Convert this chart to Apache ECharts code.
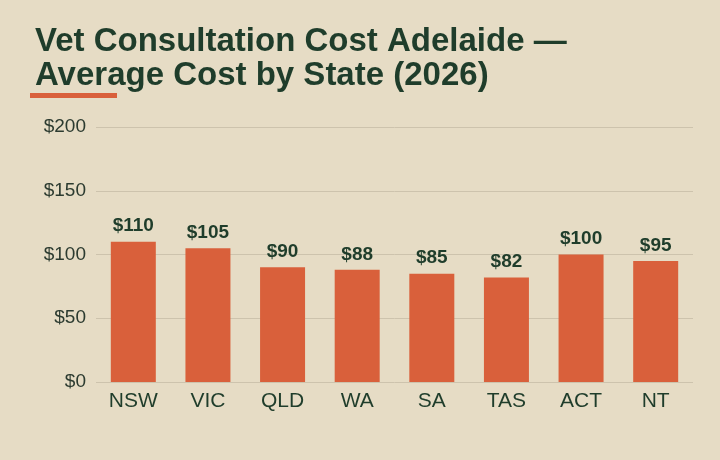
<!DOCTYPE html><html><head><meta charset="utf-8">
<script src="https://cdn.jsdelivr.net/npm/echarts@6/dist/echarts.min.js"></script>
<style>html,body{margin:0;padding:0;background:#e6dcc5}#c{width:720px;height:460px}</style>
</head><body><div id="c"></div><script>
const categories=['NSW','VIC','QLD','WA','SA','TAS','ACT','NT'];
const costs=[110,105,90,88,85,82,100,95];
const yTicks=[0,50,100,150,200];
const chart=echarts.init(document.getElementById('c'));
chart.setOption({
backgroundColor:'#e6dcc5',
title:{text:'Vet Consultation Cost Adelaide —\nAverage Cost by State (2026)',left:30,top:20,
 textStyle:{fontFamily:'Liberation Sans',fontWeight:'bold',fontSize:33,lineHeight:34,color:'#1f3d2b'}},
graphic:[{type:'rect',left:30,top:93,shape:{width:87,height:5},style:{fill:'#d9603b'}}],
grid:{left:96,right:27,top:127,bottom:78},
xAxis:{type:'category',data:categories,axisLine:{show:false},axisTick:{show:false},
 axisLabel:{fontFamily:'Liberation Sans',fontSize:21,color:'#1f3d2b',margin:9}},
yAxis:{type:'value',min:yTicks[0],max:yTicks[yTicks.length-1],interval:50,
 axisLabel:{formatter:v=>'$'+v,fontFamily:'Liberation Sans',fontSize:19,color:'#2c3b30',margin:10,align:'right'},
 splitLine:{lineStyle:{color:'#cdc3ad'}}},
series:[{type:'bar',data:costs,barWidth:45,itemStyle:{color:'#d9603b'},
 label:{show:true,position:'top',formatter:p=>'$'+p.value,fontFamily:'Liberation Sans',fontWeight:'bold',fontSize:19,color:'#1f3d2b',distance:6}}]
});
</script></body></html>
